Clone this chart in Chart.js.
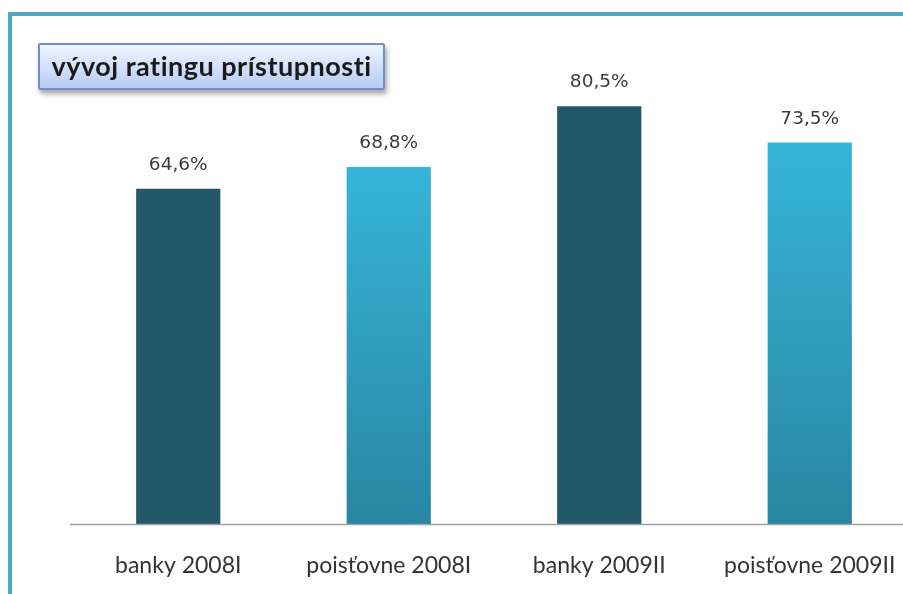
<!DOCTYPE html>
<html>
<head>
<meta charset="utf-8">
<script src="https://cdn.jsdelivr.net/npm/chart.js@4"></script>
<style>
  html, body { margin: 0; padding: 0; background: #fff; overflow: hidden; }
  #wrap { position: relative; width: 903px; height: 594px; overflow: hidden; background: #fff; }
  #frameTop { position: absolute; left: 8px; top: 12px; width: 900px; height: 4px; background: #4ba9c1; }
  #frameLeft { position: absolute; left: 8px; top: 12px; width: 4px; height: 590px; background: #4ba9c1; }
  #chartBox { position: absolute; left: 0; top: 0; width: 930px; height: 594px; }
  #title {
    position: absolute; left: 38px; top: 43px; width: 343px; height: 43px;
    border: 2px solid #6f8fcf; border-radius: 2px;
    background: linear-gradient(to bottom, #f2f6ff 0%, #d6e2fb 45%, #b7ccf4 100%);
    box-shadow: 2px 4px 5px rgba(0,0,0,0.35);
    font-family: Lato, "Open Sans", sans-serif; font-weight: bold; font-size: 27px;
    letter-spacing: 0.5px;
    color: #1a1a1a; line-height: 42px; text-align: center; white-space: nowrap;
  }
</style>
</head>
<body>
<div id="wrap">
  <div id="chartBox"><canvas id="ratingChart" width="930" height="594"></canvas></div>
  <div id="frameTop"></div>
  <div id="frameLeft"></div>
  <div id="title">vývoj ratingu prístupnosti</div>
</div>
<script>
const categories = ['banky 2008I', 'poisťovne 2008I', 'banky 2009II', 'poisťovne 2009II'];
const ratingValues = [64.6, 68.8, 80.5, 73.5];
const isBank = [true, false, true, false];

function barColor(context) {
  const chart = context.chart;
  const i = context.dataIndex;
  if (isBank[i]) return '#235868';
  const area = chart.chartArea;
  if (!area) return '#31a8c9';
  const top = chart.scales.y.getPixelForValue(ratingValues[i]);
  const g = chart.ctx.createLinearGradient(0, top, 0, area.bottom);
  g.addColorStop(0, '#36b5d9');
  g.addColorStop(1, '#2886a1');
  return g;
}

// value labels above the bars + axis line running to the canvas edge
const valueLabels = {
  id: 'valueLabels',
  afterDatasetsDraw(chart) {
    const ctx = chart.ctx;
    const meta = chart.getDatasetMeta(0);
    ctx.save();
    ctx.strokeStyle = '#a0a0a0';
    ctx.lineWidth = 1.5;
    ctx.beginPath();
    ctx.moveTo(chart.chartArea.left - 3, chart.chartArea.bottom + 0.5);
    ctx.lineTo(chart.width, chart.chartArea.bottom + 0.5);
    ctx.stroke();

    ctx.font = '18.5px "DejaVu Sans", sans-serif';
    ctx.fillStyle = '#3a3a3a';
    ctx.textAlign = 'center';
    ctx.textBaseline = 'alphabetic';
    meta.data.forEach((bar, i) => {
      const txt = ratingValues[i].toFixed(1).replace('.', ',') + '%';
      ctx.fillText(txt, bar.x, bar.y - 19);
    });
    ctx.restore();
  }
};

const ratingctx = document.getElementById('ratingChart').getContext('2d');
let ratingChart = new Chart(ratingctx, {
  type: 'bar',
  data: {
    labels: categories,
    datasets: [{
      label: 'rating',
      data: ratingValues,
      backgroundColor: barColor,
      borderWidth: 0,
      categoryPercentage: 1.0,
      barPercentage: 0.4
    }]
  },
  options: {
    responsive: false,
    animation: false,
    layout: { padding: { left: 73, right: 15, top: 57, bottom: 0 } },
    plugins: { legend: { display: false }, tooltip: { enabled: false } },
    scales: {
      y: { display: false, min: 0, max: 90 },
      x: {
        grid: { display: false },
        border: { display: false },
        ticks: {
          color: '#333',
          padding: 20,
          font: { family: 'Lato, "Open Sans", sans-serif', size: 23 }
        },
        afterFit(scale) { scale.height = 70; }
      }
    }
  },
  plugins: [valueLabels]
});
</script>
</body>
</html>
